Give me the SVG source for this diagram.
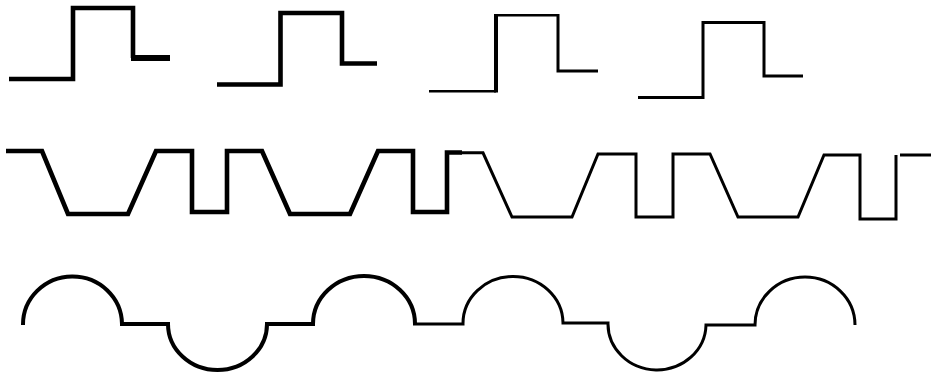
<svg xmlns="http://www.w3.org/2000/svg" width="931" height="378" viewBox="0 0 931 378">
<style>
.w{fill:none;stroke:#000;stroke-linejoin:miter;stroke-linecap:butt}
.t5{stroke-width:4.6}
.t4{stroke-width:4}
.t3{stroke-width:3}
.t25{stroke-width:2.6}
</style>
<rect width="931" height="378" fill="#fff"/>
<g id="pulse1">
<path class="w t5" d="M9 79H73V8H133V58"/>
<path class="w" stroke-width="6" d="M131 58H170"/>
</g>
<g id="pulse2">
<path class="w t5" d="M217 84.5H280.5V13H342V63.5H377"/>
</g>
<g id="pulse3">
<path class="w t25" d="M429 91.3H496"/>
<path class="w t4" d="M496 92.5V14"/>
<path class="w t25" d="M494 15.3H558"/>
<path class="w t3" d="M558 14V71H598"/>
</g>
<g id="pulse4">
<path class="w t3" d="M638 97.5H703V22.5H764V76H803"/>
</g>
<g id="trapezoid-wave">
<path class="w t5" d="M6 151H42L68 214H128L156 151H192V212H227V151H262L290 214H350L378 151H413V212H447V152.5H462"/>
<path class="w t3" d="M460 152.8H483L512 217H572L598 154H636V217H673V154H710L738 217H798L824 155H860V219H896V155"/>
<path class="w t3" d="M900 155H931"/>
</g>
<g id="arc-wave">
<path class="w t4" d="M23 325A49.5 48 0 0 1 122 324H168A49.5 46 0 0 0 267 324H313A51 48 0 0 1 415 324"/>
<path class="w t3" d="M413 324H463A50 47 0 0 1 563 323H608A49 46 0 0 0 706 325H755A50 48 0 0 1 855 325"/>
</g>
</svg>
